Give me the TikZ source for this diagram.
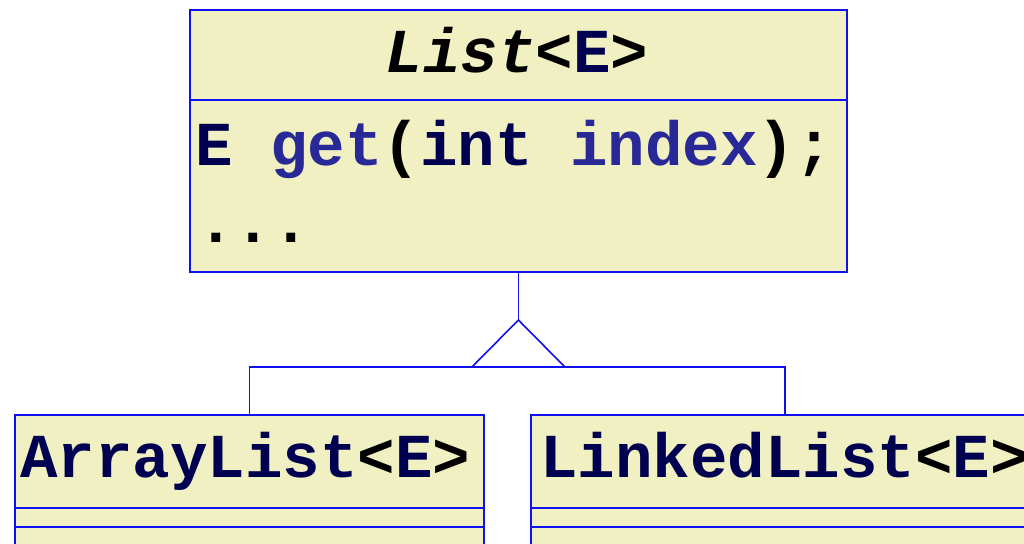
\documentclass[tikz,border=0pt]{standalone}
\usepackage{fontspec}
\setmonofont{Liberation Mono}
\definecolor{umlblue}{RGB}{16, 16, 240}
\definecolor{umlfill}{RGB}{240, 240, 194}
\definecolor{typenavy}{RGB}{0, 0, 80}
\definecolor{methblue}{RGB}{40, 40, 150}
\usetikzlibrary{positioning, calc}
\tikzset{
  classbox/.style={draw=umlblue, fill=umlfill, line width=1.8pt, anchor=north west, inner sep=0pt},
  code/.style={inner sep=0pt, font=\ttfamily\bfseries\fontsize{62.5}{70}\selectfont},
  umlline/.style={draw=umlblue, line width=1.6pt}
}

\begin{document}
\begin{tikzpicture}[x=1pt, y=-1pt]
  \useasboundingbox (0,0) rectangle (1024,543);
  \clip (0,0) rectangle (1024,543);

  % class boxes
  \node[classbox, minimum width=657pt, minimum height=262pt] (list) at (189,9) {};
  \node[classbox, minimum width=469pt, minimum height=200pt] (alist) at (14,414) {};
  \node[classbox, minimum width=508pt, minimum height=200pt] (llist) at (530,414) {};

  % compartments
  \draw[umlline] (list.west |- 0,100) -- (list.east |- 0,100);
  \foreach \yy in {508, 527} {
    \draw[umlline] (alist.west |- 0,\yy) -- (alist.east |- 0,\yy);
    \draw[umlline] (llist.west |- 0,\yy) -- (llist.east |- 0,\yy);
  }

  % texts
  \node[code, anchor=base] (listname) at (517,72)
    {\textit{List}<\textcolor{typenavy}{E}>};
  \node[code, anchor=base west] (getop) at (195,165)
    {\textcolor{typenavy}{E} \textcolor{methblue}{get}(\textcolor{typenavy}{int} \textcolor{methblue}{index});};
  \node[code, anchor=base west] (more) at (197,242) {...};
  \node[code, anchor=base west] (alistname) at (20,477)
    {\textcolor{typenavy}{ArrayList}<\textcolor{typenavy}{E}>};
  \node[code, anchor=base west] (llistname) at (540,477)
    {\textcolor{typenavy}{LinkedList}<\textcolor{typenavy}{E}>};

  % generalisation
  \coordinate (apex) at (list.south |- 0,320);
  \coordinate (base) at (list.south |- 0,367);
  \draw[umlline] (list.south) -- (apex);
  \draw[umlline] (apex) -- ($(base)+(-46.5,0)$) -- ($(base)+(46.5,0)$) -- cycle;
  \draw[umlline] (alist.north) |- (base) -| (llist.north);
\end{tikzpicture}
\end{document}
